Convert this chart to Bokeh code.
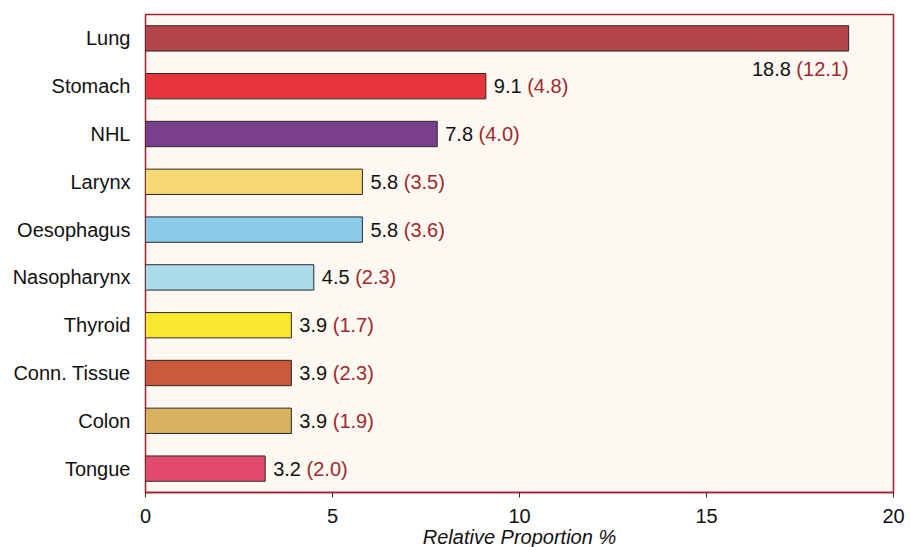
from bokeh.plotting import figure
from bokeh.models import ColumnDataSource, FixedTicker
from bokeh.core.properties import value
from bokeh.embed import file_html
from bokeh.resources import INLINE

sites = ["Lung", "Stomach", "NHL", "Larynx", "Oesophagus", "Nasopharynx",
         "Thyroid", "Conn. Tissue", "Colon", "Tongue"]
proportion = [18.8, 9.1, 7.8, 5.8, 5.8, 4.5, 3.9, 3.9, 3.9, 3.2]
secondary = [12.1, 4.8, 4.0, 3.5, 3.6, 2.3, 1.7, 2.3, 1.9, 2.0]
bar_colors = ["#b5434a", "#e8353b", "#7a3f8c", "#f8d872", "#8ccbea",
              "#a9dce8", "#f9e62e", "#c95a3c", "#d9b15f", "#e24b6c"]
x_ticks = [0, 5, 10, 15, 20]

FONT = "Liberation Sans"
FS = 20
ADV = {".": 0.278, " ": 0.278, "(": 0.333, ")": 0.333}


def text_width(s):
    return sum(ADV.get(c, 0.556) for c in s) * FS


val_str = ["%.1f" % v for v in proportion]
sec_str = ["(%.1f)" % v for v in secondary]

imax = proportion.index(max(proportion))
rows = [i for i in range(len(sites)) if i != imax]

src = ColumnDataSource(dict(site=sites, val=proportion, color=bar_colors))
lab = ColumnDataSource(dict(
    site=[sites[i] for i in rows],
    val=[proportion[i] for i in rows],
    vtxt=[val_str[i] for i in rows],
    stxt=[sec_str[i] for i in rows],
    soff=[8 + text_width(val_str[i] + " ") for i in rows],
))
top = ColumnDataSource(dict(
    site=[sites[imax]], val=[proportion[imax]],
    vtxt=[val_str[imax]], stxt=[sec_str[imax]],
    voff=[-text_width(" " + sec_str[imax])],
))

p = figure(y_range=list(reversed(sites)), x_range=(0, 20),
           frame_width=748, frame_height=478, width=905, height=545,
           output_backend="svg", toolbar_location=None,
           min_border_left=145, min_border_top=14, min_border_right=12,
           min_border_bottom=10)
p.y_range.range_padding = 0
p.background_fill_color = "#fdf8f1"
p.border_fill_color = "white"
p.outline_line_color = "#a3222a"
p.outline_line_width = 1.5
p.grid.visible = False

p.hbar(y="site", right="val", left=0, height=0.53, source=src,
       fill_color="color", line_color="#2a2a2a", line_width=1)

p.text(x="val", y="site", text="vtxt", source=lab, x_offset=8,
       text_align="left", text_baseline="middle", text_font=value(FONT),
       text_font_size="%dpx" % FS, text_color="#111111")
p.text(x="val", y="site", text="stxt", source=lab, x_offset="soff",
       text_align="left", text_baseline="middle", text_font=value(FONT),
       text_font_size="%dpx" % FS, text_color="#a02a2e")

p.text(x="val", y="site", text="stxt", source=top, x_offset=0, y_offset=31,
       text_align="right", text_baseline="middle", text_font=value(FONT),
       text_font_size="%dpx" % FS, text_color="#a02a2e")
p.text(x="val", y="site", text="vtxt", source=top, x_offset="voff", y_offset=31,
       text_align="right", text_baseline="middle", text_font=value(FONT),
       text_font_size="%dpx" % FS, text_color="#111111")

xa = p.xaxis[0]
xa.ticker = FixedTicker(ticks=x_ticks)
xa.minor_tick_line_color = None
xa.major_tick_out = 5
xa.major_tick_in = 0
xa.major_tick_line_color = "#5a1a1a"
xa.axis_line_color = "#a3222a"
xa.axis_line_width = 1.5
xa.major_label_text_font = FONT
xa.major_label_text_font_size = "%dpx" % FS
xa.major_label_text_color = "#111111"
xa.major_label_standoff = 11
xa.axis_label = "Relative Proportion %"
xa.axis_label_text_font = FONT
xa.axis_label_text_font_style = "italic"
xa.axis_label_text_font_size = "20px"
xa.axis_label_text_color = "#111111"
xa.axis_label_standoff = 0

ya = p.yaxis[0]
ya.axis_line_color = None
ya.major_tick_line_color = None
ya.minor_tick_line_color = None
ya.major_label_text_font = FONT
ya.major_label_text_font_size = "%dpx" % FS
ya.major_label_text_color = "#111111"
ya.major_label_standoff = 9

open("out.html", "w").write(file_html(p, INLINE))
